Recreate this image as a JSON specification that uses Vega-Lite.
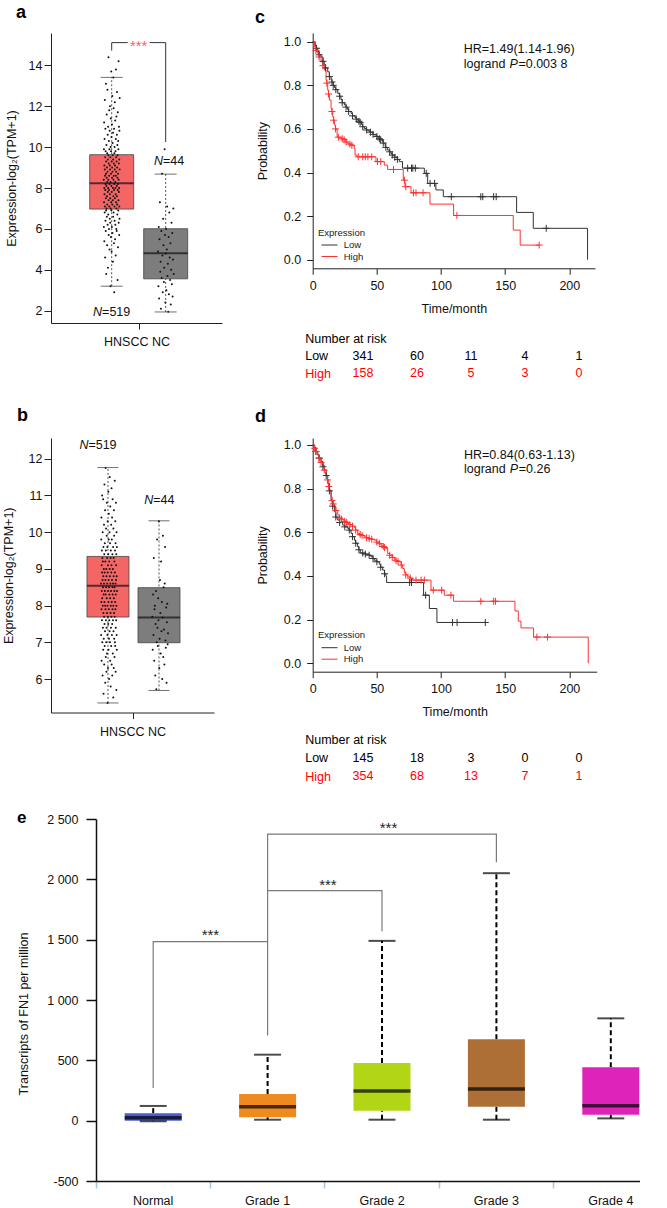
{
"$schema": "https://vega.github.io/schema/vega-lite/v6.json",
"padding": {"left": 2, "top": 4, "right": 0, "bottom": 0},
"config": {
 "font": "Liberation Sans",
 "view": {"stroke": null},
 "axis": {"grid": false, "domainColor": "#222", "tickColor": "#222", "labelColor": "#111", "titleColor": "#111", "labelFontSize": 12.5, "titleFontSize": 12.5, "titleFontWeight": "normal"},
 "title": {"color": "#000"}
},
"columns": 2,
"spacing": {"row": 0, "column": 90.7},
"bounds": "flush",
"align": "each",
"resolve": {"scale": {"color": "independent", "fill": "independent"}},
"datasets": {
 "a_box": [{"group":"HNSCC","lo":3.2,"q1":6.97,"med":8.23,"q3":9.63,"hi":13.41},{"group":"NC","lo":1.94,"q1":3.56,"med":4.81,"q3":6.01,"hi":8.68}],
 "a_br": [{"group":"HNSCC","v":14.72,"k":1},{"group":"HNSCC","v":15.11,"k":2},{"group":"NC","v":15.11,"k":3},{"group":"NC","v":10.25,"k":4}],
 "a_pts": [
{"group":"HNSCC","value":8.4},{"group":"HNSCC","value":6.1},{"group":"HNSCC","value":9.9},{"group":"HNSCC","value":7.3},{"group":"HNSCC","value":11.2},{"group":"HNSCC","value":8.0},{"group":"HNSCC","value":5.4},{"group":"HNSCC","value":9.1},{"group":"HNSCC","value":7.7},{"group":"HNSCC","value":10.4},
{"group":"HNSCC","value":6.8},{"group":"HNSCC","value":8.9},{"group":"HNSCC","value":12.3},{"group":"HNSCC","value":7.1},{"group":"HNSCC","value":8.6},{"group":"HNSCC","value":4.6},{"group":"HNSCC","value":9.5},{"group":"HNSCC","value":7.9},{"group":"HNSCC","value":10.9},{"group":"HNSCC","value":6.4},
{"group":"HNSCC","value":8.2},{"group":"HNSCC","value":9.8},{"group":"HNSCC","value":5.9},{"group":"HNSCC","value":7.5},{"group":"HNSCC","value":13.1},{"group":"HNSCC","value":8.7},{"group":"HNSCC","value":6.9},{"group":"HNSCC","value":9.3},{"group":"HNSCC","value":3.8},{"group":"HNSCC","value":8.1},
{"group":"HNSCC","value":10.1},{"group":"HNSCC","value":7.0},{"group":"HNSCC","value":8.5},{"group":"HNSCC","value":11.6},{"group":"HNSCC","value":6.6},{"group":"HNSCC","value":9.0},{"group":"HNSCC","value":7.6},{"group":"HNSCC","value":5.2},{"group":"HNSCC","value":9.7},{"group":"HNSCC","value":8.3},
{"group":"HNSCC","value":7.2},{"group":"HNSCC","value":12.8},{"group":"HNSCC","value":8.8},{"group":"HNSCC","value":6.2},{"group":"HNSCC","value":10.6},{"group":"HNSCC","value":7.8},{"group":"HNSCC","value":9.4},{"group":"HNSCC","value":4.1},{"group":"HNSCC","value":8.0},{"group":"HNSCC","value":11.0},
{"group":"HNSCC","value":6.7},{"group":"HNSCC","value":9.6},{"group":"HNSCC","value":8.4},{"group":"HNSCC","value":14.4},{"group":"HNSCC","value":7.4},{"group":"HNSCC","value":5.7},{"group":"HNSCC","value":9.2},{"group":"HNSCC","value":10.3},{"group":"HNSCC","value":7.9},{"group":"HNSCC","value":6.0},
{"group":"HNSCC","value":8.6},{"group":"HNSCC","value":11.8},{"group":"HNSCC","value":7.1},{"group":"HNSCC","value":9.9},{"group":"HNSCC","value":5.0},{"group":"HNSCC","value":8.2},{"group":"HNSCC","value":10.8},{"group":"HNSCC","value":6.5},{"group":"HNSCC","value":9.1},{"group":"HNSCC","value":7.7},
{"group":"HNSCC","value":12.0},{"group":"HNSCC","value":8.9},{"group":"HNSCC","value":6.3},{"group":"HNSCC","value":7.5},{"group":"HNSCC","value":9.5},{"group":"HNSCC","value":3.2},{"group":"HNSCC","value":8.3},{"group":"HNSCC","value":10.0},{"group":"HNSCC","value":7.0},{"group":"HNSCC","value":11.4},
{"group":"HNSCC","value":5.6},{"group":"HNSCC","value":8.7},{"group":"HNSCC","value":9.8},{"group":"HNSCC","value":7.3},{"group":"HNSCC","value":13.7},{"group":"HNSCC","value":6.9},{"group":"HNSCC","value":8.1},{"group":"HNSCC","value":10.5},{"group":"HNSCC","value":4.9},{"group":"HNSCC","value":9.3},
{"group":"HNSCC","value":7.8},{"group":"HNSCC","value":6.1},{"group":"HNSCC","value":11.1},{"group":"HNSCC","value":8.5},{"group":"HNSCC","value":9.0},{"group":"HNSCC","value":7.2},{"group":"HNSCC","value":12.5},{"group":"HNSCC","value":5.8},{"group":"HNSCC","value":8.8},{"group":"HNSCC","value":10.2},
{"group":"HNSCC","value":9.6},{"group":"HNSCC","value":7.4},{"group":"HNSCC","value":4.4},{"group":"HNSCC","value":8.0},{"group":"HNSCC","value":10.7},{"group":"HNSCC","value":6.6},{"group":"HNSCC","value":9.4},{"group":"HNSCC","value":13.4},{"group":"HNSCC","value":7.6},{"group":"HNSCC","value":8.4},
{"group":"HNSCC","value":6.8},{"group":"HNSCC","value":11.9},{"group":"HNSCC","value":8.6},{"group":"HNSCC","value":9.2},{"group":"HNSCC","value":5.3},{"group":"HNSCC","value":7.9},{"group":"HNSCC","value":10.9},{"group":"HNSCC","value":2.9},{"group":"HNSCC","value":8.2},{"group":"HNSCC","value":9.7},
{"group":"HNSCC","value":7.1},{"group":"HNSCC","value":10.0},{"group":"HNSCC","value":6.4},{"group":"HNSCC","value":8.9},{"group":"HNSCC","value":12.2},{"group":"HNSCC","value":7.5},{"group":"HNSCC","value":9.1},{"group":"HNSCC","value":5.5},{"group":"HNSCC","value":11.3},{"group":"HNSCC","value":8.3},
{"group":"HNSCC","value":6.2},{"group":"HNSCC","value":8.0},{"group":"HNSCC","value":9.8},{"group":"HNSCC","value":7.7},{"group":"HNSCC","value":4.7},{"group":"HNSCC","value":10.4},{"group":"HNSCC","value":8.6},{"group":"HNSCC","value":13.8},{"group":"HNSCC","value":7.3},{"group":"HNSCC","value":9.5},
{"group":"HNSCC","value":8.8},{"group":"HNSCC","value":6.0},{"group":"HNSCC","value":11.5},{"group":"HNSCC","value":7.0},{"group":"HNSCC","value":9.3},{"group":"HNSCC","value":5.9},{"group":"HNSCC","value":8.1},{"group":"HNSCC","value":10.6},{"group":"HNSCC","value":7.6},{"group":"HNSCC","value":12.7},
{"group":"HNSCC","value":9.0},{"group":"HNSCC","value":7.2},{"group":"HNSCC","value":6.7},{"group":"HNSCC","value":10.1},{"group":"HNSCC","value":8.5},{"group":"HNSCC","value":3.5},{"group":"HNSCC","value":9.6},{"group":"HNSCC","value":7.9},{"group":"HNSCC","value":11.7},{"group":"HNSCC","value":8.2},
{"group":"HNSCC","value":5.1},{"group":"HNSCC","value":8.7},{"group":"HNSCC","value":10.3},{"group":"HNSCC","value":6.9},{"group":"HNSCC","value":9.9},{"group":"HNSCC","value":7.4},{"group":"HNSCC","value":14.2},{"group":"HNSCC","value":8.4},{"group":"HNSCC","value":6.3},{"group":"HNSCC","value":9.2},
{"group":"HNSCC","value":7.8},{"group":"HNSCC","value":11.0},{"group":"HNSCC","value":8.0},{"group":"HNSCC","value":5.7},{"group":"HNSCC","value":9.4},{"group":"HNSCC","value":7.1},{"group":"HNSCC","value":10.8},{"group":"HNSCC","value":6.5},{"group":"HNSCC","value":8.9},{"group":"HNSCC","value":12.4},
{"group":"NC","value":4.9},{"group":"NC","value":3.2},{"group":"NC","value":6.1},{"group":"NC","value":2.6},{"group":"NC","value":5.5},{"group":"NC","value":7.3},{"group":"NC","value":3.9},{"group":"NC","value":4.4},{"group":"NC","value":2.1},{"group":"NC","value":5.9},
{"group":"NC","value":3.6},{"group":"NC","value":8.7},{"group":"NC","value":4.7},{"group":"NC","value":2.9},{"group":"NC","value":6.5},{"group":"NC","value":5.2},{"group":"NC","value":3.4},{"group":"NC","value":4.1},{"group":"NC","value":9.9},{"group":"NC","value":5.7},
{"group":"NC","value":2.4},{"group":"NC","value":4.8},{"group":"NC","value":6.0},{"group":"NC","value":3.0},{"group":"NC","value":5.0},{"group":"NC","value":7.1},{"group":"NC","value":3.7},{"group":"NC","value":4.3},{"group":"NC","value":1.95},{"group":"NC","value":5.6},
{"group":"NC","value":2.8},{"group":"NC","value":6.8},{"group":"NC","value":4.6},{"group":"NC","value":3.5},{"group":"NC","value":5.3},{"group":"NC","value":2.3},{"group":"NC","value":4.0},{"group":"NC","value":6.3},{"group":"NC","value":3.3},{"group":"NC","value":5.8},
{"group":"NC","value":2.7},{"group":"NC","value":4.5},{"group":"NC","value":7.0},{"group":"NC","value":3.8}],
 "b_box": [{"group":"HNSCC","lo":5.35,"q1":7.69,"med":8.54,"q3":9.34,"hi":11.76},{"group":"NC","lo":5.69,"q1":6.99,"med":7.68,"q3":8.49,"hi":10.31}],
 "b_pts": [
{"group":"HNSCC","value":8.6},{"group":"HNSCC","value":7.2},{"group":"HNSCC","value":9.8},{"group":"HNSCC","value":8.1},{"group":"HNSCC","value":10.4},{"group":"HNSCC","value":7.9},{"group":"HNSCC","value":6.5},{"group":"HNSCC","value":9.1},{"group":"HNSCC","value":8.4},{"group":"HNSCC","value":9.5},
{"group":"HNSCC","value":7.6},{"group":"HNSCC","value":8.9},{"group":"HNSCC","value":11.0},{"group":"HNSCC","value":8.2},{"group":"HNSCC","value":7.0},{"group":"HNSCC","value":9.3},{"group":"HNSCC","value":8.7},{"group":"HNSCC","value":6.1},{"group":"HNSCC","value":10.0},{"group":"HNSCC","value":8.0},
{"group":"HNSCC","value":9.2},{"group":"HNSCC","value":7.4},{"group":"HNSCC","value":8.5},{"group":"HNSCC","value":10.9},{"group":"HNSCC","value":6.8},{"group":"HNSCC","value":8.8},{"group":"HNSCC","value":7.8},{"group":"HNSCC","value":9.6},{"group":"HNSCC","value":5.6},{"group":"HNSCC","value":8.3},
{"group":"HNSCC","value":7.1},{"group":"HNSCC","value":9.0},{"group":"HNSCC","value":8.6},{"group":"HNSCC","value":10.2},{"group":"HNSCC","value":7.7},{"group":"HNSCC","value":6.4},{"group":"HNSCC","value":9.4},{"group":"HNSCC","value":8.1},{"group":"HNSCC","value":11.3},{"group":"HNSCC","value":7.5},
{"group":"HNSCC","value":8.9},{"group":"HNSCC","value":6.9},{"group":"HNSCC","value":9.7},{"group":"HNSCC","value":8.4},{"group":"HNSCC","value":7.3},{"group":"HNSCC","value":10.6},{"group":"HNSCC","value":8.0},{"group":"HNSCC","value":5.9},{"group":"HNSCC","value":9.2},{"group":"HNSCC","value":8.7},
{"group":"HNSCC","value":7.9},{"group":"HNSCC","value":11.75},{"group":"HNSCC","value":8.3},{"group":"HNSCC","value":6.6},{"group":"HNSCC","value":9.5},{"group":"HNSCC","value":7.6},{"group":"HNSCC","value":10.1},{"group":"HNSCC","value":8.5},{"group":"HNSCC","value":7.0},{"group":"HNSCC","value":9.0},
{"group":"HNSCC","value":6.2},{"group":"HNSCC","value":8.8},{"group":"HNSCC","value":7.4},{"group":"HNSCC","value":9.9},{"group":"HNSCC","value":8.2},{"group":"HNSCC","value":10.8},{"group":"HNSCC","value":7.8},{"group":"HNSCC","value":6.7},{"group":"HNSCC","value":9.3},{"group":"HNSCC","value":8.6},
{"group":"HNSCC","value":9.6},{"group":"HNSCC","value":7.2},{"group":"HNSCC","value":8.0},{"group":"HNSCC","value":5.35},{"group":"HNSCC","value":8.9},{"group":"HNSCC","value":10.3},{"group":"HNSCC","value":7.7},{"group":"HNSCC","value":9.1},{"group":"HNSCC","value":6.3},{"group":"HNSCC","value":8.4},
{"group":"HNSCC","value":7.5},{"group":"HNSCC","value":9.4},{"group":"HNSCC","value":11.1},{"group":"HNSCC","value":8.1},{"group":"HNSCC","value":6.8},{"group":"HNSCC","value":8.7},{"group":"HNSCC","value":9.8},{"group":"HNSCC","value":7.9},{"group":"HNSCC","value":10.5},{"group":"HNSCC","value":7.1},
{"group":"HNSCC","value":8.5},{"group":"HNSCC","value":6.0},{"group":"HNSCC","value":9.2},{"group":"HNSCC","value":7.6},{"group":"HNSCC","value":8.3},{"group":"HNSCC","value":10.0},{"group":"HNSCC","value":7.3},{"group":"HNSCC","value":9.0},{"group":"HNSCC","value":11.5},{"group":"HNSCC","value":8.8},
{"group":"HNSCC","value":7.0},{"group":"HNSCC","value":9.7},{"group":"HNSCC","value":8.2},{"group":"HNSCC","value":6.5},{"group":"HNSCC","value":10.7},{"group":"HNSCC","value":8.6},{"group":"HNSCC","value":7.8},{"group":"HNSCC","value":9.3},{"group":"HNSCC","value":5.8},{"group":"HNSCC","value":8.0},
{"group":"HNSCC","value":9.5},{"group":"HNSCC","value":7.4},{"group":"HNSCC","value":8.4},{"group":"HNSCC","value":10.2},{"group":"HNSCC","value":6.9},{"group":"HNSCC","value":8.9},{"group":"HNSCC","value":7.7},{"group":"HNSCC","value":9.1},{"group":"HNSCC","value":11.2},{"group":"HNSCC","value":6.4},
{"group":"HNSCC","value":8.1},{"group":"HNSCC","value":9.8},{"group":"HNSCC","value":7.2},{"group":"HNSCC","value":8.7},{"group":"HNSCC","value":10.4},{"group":"HNSCC","value":7.5},{"group":"HNSCC","value":6.1},{"group":"HNSCC","value":9.4},{"group":"HNSCC","value":8.5},{"group":"HNSCC","value":7.9},
{"group":"HNSCC","value":10.9},{"group":"HNSCC","value":8.3},{"group":"HNSCC","value":6.7},{"group":"HNSCC","value":9.0},{"group":"HNSCC","value":7.6},{"group":"HNSCC","value":8.6},{"group":"HNSCC","value":9.6},{"group":"HNSCC","value":5.5},{"group":"HNSCC","value":8.0},{"group":"HNSCC","value":10.1},
{"group":"HNSCC","value":7.3},{"group":"HNSCC","value":8.8},{"group":"HNSCC","value":9.3},{"group":"HNSCC","value":6.3},{"group":"HNSCC","value":8.2},{"group":"HNSCC","value":10.6},{"group":"HNSCC","value":7.8},{"group":"HNSCC","value":9.9},{"group":"HNSCC","value":7.1},{"group":"HNSCC","value":8.4},
{"group":"HNSCC","value":9.2},{"group":"HNSCC","value":6.6},{"group":"HNSCC","value":8.5},{"group":"HNSCC","value":7.7},{"group":"HNSCC","value":11.4},{"group":"HNSCC","value":8.9},{"group":"HNSCC","value":7.0},{"group":"HNSCC","value":9.5},{"group":"HNSCC","value":8.1},{"group":"HNSCC","value":6.9},
{"group":"HNSCC","value":10.3},{"group":"HNSCC","value":7.9},{"group":"HNSCC","value":8.6},{"group":"HNSCC","value":9.7},{"group":"HNSCC","value":6.2},{"group":"HNSCC","value":8.3},{"group":"HNSCC","value":7.4},{"group":"HNSCC","value":10.8},{"group":"HNSCC","value":8.7},{"group":"HNSCC","value":9.1},
{"group":"HNSCC","value":7.6},{"group":"HNSCC","value":9.4},{"group":"HNSCC","value":5.7},{"group":"HNSCC","value":8.0},{"group":"HNSCC","value":10.0},{"group":"HNSCC","value":7.2},{"group":"HNSCC","value":8.8},{"group":"HNSCC","value":6.8},{"group":"HNSCC","value":9.6},{"group":"HNSCC","value":8.4},
{"group":"NC","value":7.7},{"group":"NC","value":6.8},{"group":"NC","value":8.3},{"group":"NC","value":7.2},{"group":"NC","value":9.3},{"group":"NC","value":6.5},{"group":"NC","value":7.9},{"group":"NC","value":8.0},{"group":"NC","value":6.1},{"group":"NC","value":7.5},
{"group":"NC","value":8.4},{"group":"NC","value":5.72},{"group":"NC","value":7.0},{"group":"NC","value":9.8},{"group":"NC","value":7.4},{"group":"NC","value":6.9},{"group":"NC","value":8.2},{"group":"NC","value":7.6},{"group":"NC","value":10.3},{"group":"NC","value":6.3},
{"group":"NC","value":7.1},{"group":"NC","value":8.7},{"group":"NC","value":7.8},{"group":"NC","value":6.7},{"group":"NC","value":9.2},{"group":"NC","value":7.3},{"group":"NC","value":8.1},{"group":"NC","value":6.0},{"group":"NC","value":7.68},{"group":"NC","value":9.9},
{"group":"NC","value":6.6},{"group":"NC","value":8.5},{"group":"NC","value":7.35},{"group":"NC","value":6.4},{"group":"NC","value":8.6},{"group":"NC","value":9.6},{"group":"NC","value":7.05},{"group":"NC","value":6.85},{"group":"NC","value":7.95},{"group":"NC","value":5.9},
{"group":"NC","value":7.55},{"group":"NC","value":8.05},{"group":"NC","value":6.95},{"group":"NC","value":7.25}],
 "km_c": [
{"grp":"Low","t":0,"s":1},{"grp":"Low","t":2,"s":0.98},{"grp":"Low","t":3,"s":0.97,"cens":1},{"grp":"Low","t":4,"s":0.955},{"grp":"Low","t":5,"s":0.94,"cens":1},{"grp":"Low","t":6.5,"s":0.93},{"grp":"Low","t":8,"s":0.91,"cens":1},{"grp":"Low","t":9,"s":0.895},{"grp":"Low","t":10,"s":0.88,"cens":1},{"grp":"Low","t":11.7,"s":0.862},{"grp":"Low","t":13,"s":0.84,"cens":1},{"grp":"Low","t":14.3,"s":0.824},{"grp":"Low","t":15,"s":0.815,"cens":1},{"grp":"Low","t":16,"s":0.8,"cens":1},{"grp":"Low","t":17,"s":0.79},{"grp":"Low","t":18,"s":0.78,"cens":1},{"grp":"Low","t":19.5,"s":0.763},{"grp":"Low","t":21,"s":0.75,"cens":1},{"grp":"Low","t":22,"s":0.735},{"grp":"Low","t":23,"s":0.72,"cens":1},{"grp":"Low","t":24.7,"s":0.71},{"grp":"Low","t":26,"s":0.7,"cens":1},{"grp":"Low","t":27,"s":0.69},{"grp":"Low","t":28,"s":0.68,"cens":1},{"grp":"Low","t":29.9,"s":0.671},{"grp":"Low","t":31,"s":0.66,"cens":1},{"grp":"Low","t":33,"s":0.652},{"grp":"Low","t":34,"s":0.645,"cens":1},{"grp":"Low","t":35,"s":0.64},{"grp":"Low","t":36,"s":0.635,"cens":1},{"grp":"Low","t":37,"s":0.63,"cens":1},{"grp":"Low","t":38,"s":0.62},{"grp":"Low","t":39,"s":0.61,"cens":1},{"grp":"Low","t":40.2,"s":0.602},{"grp":"Low","t":42,"s":0.595,"cens":1},{"grp":"Low","t":44,"s":0.587},{"grp":"Low","t":45,"s":0.585,"cens":1},{"grp":"Low","t":47,"s":0.575,"cens":1},{"grp":"Low","t":48,"s":0.572},{"grp":"Low","t":50,"s":0.565,"cens":1},{"grp":"Low","t":51,"s":0.558},{"grp":"Low","t":52,"s":0.555,"cens":1},{"grp":"Low","t":53,"s":0.55,"cens":1},{"grp":"Low","t":54.5,"s":0.541},{"grp":"Low","t":55,"s":0.535,"cens":1},{"grp":"Low","t":56.5,"s":0.52},{"grp":"Low","t":57,"s":0.515,"cens":1},{"grp":"Low","t":58.4,"s":0.503},{"grp":"Low","t":60,"s":0.495,"cens":1},{"grp":"Low","t":61,"s":0.487},{"grp":"Low","t":62,"s":0.48,"cens":1},{"grp":"Low","t":63.6,"s":0.472},{"grp":"Low","t":64,"s":0.47,"cens":1},{"grp":"Low","t":66,"s":0.46,"cens":1},{"grp":"Low","t":67.5,"s":0.45},{"grp":"Low","t":70,"s":0.42},{"grp":"Low","t":74,"s":0.42,"cens":1},{"grp":"Low","t":77,"s":0.42,"cens":1},{"grp":"Low","t":78,"s":0.42,"cens":1},{"grp":"Low","t":80,"s":0.42,"cens":1},{"grp":"Low","t":87,"s":0.396},{"grp":"Low","t":88.5,"s":0.396,"cens":1},{"grp":"Low","t":89.6,"s":0.35},{"grp":"Low","t":91.5,"s":0.35,"cens":1},{"grp":"Low","t":95,"s":0.35,"cens":1},{"grp":"Low","t":96,"s":0.32},{"grp":"Low","t":101.8,"s":0.289},{"grp":"Low","t":108,"s":0.289,"cens":1},{"grp":"Low","t":131,"s":0.289,"cens":1},{"grp":"Low","t":132.5,"s":0.289,"cens":1},{"grp":"Low","t":141,"s":0.289,"cens":1},{"grp":"Low","t":143,"s":0.289,"cens":1},{"grp":"Low","t":158.9,"s":0.217},{"grp":"Low","t":171.9,"s":0.144},{"grp":"Low","t":182,"s":0.144,"cens":1},{"grp":"Low","t":214.2,"s":0},
{"grp":"High","t":0,"s":1},{"grp":"High","t":1.3,"s":0.977},{"grp":"High","t":2.5,"s":0.96,"cens":1},{"grp":"High","t":3.9,"s":0.946},{"grp":"High","t":5,"s":0.93,"cens":1},{"grp":"High","t":6.5,"s":0.908},{"grp":"High","t":8,"s":0.89,"cens":1},{"grp":"High","t":9.1,"s":0.87},{"grp":"High","t":10.4,"s":0.824},{"grp":"High","t":11,"s":0.81,"cens":1},{"grp":"High","t":11.7,"s":0.778},{"grp":"High","t":12.3,"s":0.76,"cens":1},{"grp":"High","t":13,"s":0.732},{"grp":"High","t":14.3,"s":0.694},{"grp":"High","t":15,"s":0.68,"cens":1},{"grp":"High","t":15.6,"s":0.656},{"grp":"High","t":16.3,"s":0.64,"cens":1},{"grp":"High","t":16.9,"s":0.618},{"grp":"High","t":17.8,"s":0.6,"cens":1},{"grp":"High","t":19,"s":0.564},{"grp":"High","t":20,"s":0.562,"cens":1},{"grp":"High","t":22,"s":0.557},{"grp":"High","t":23,"s":0.555,"cens":1},{"grp":"High","t":24.5,"s":0.55,"cens":1},{"grp":"High","t":26,"s":0.54,"cens":1},{"grp":"High","t":27.3,"s":0.534},{"grp":"High","t":29,"s":0.53,"cens":1},{"grp":"High","t":30.5,"s":0.525,"cens":1},{"grp":"High","t":32.4,"s":0.511},{"grp":"High","t":33,"s":0.48},{"grp":"High","t":34.5,"s":0.472},{"grp":"High","t":35.5,"s":0.472,"cens":1},{"grp":"High","t":39,"s":0.472,"cens":1},{"grp":"High","t":41,"s":0.472,"cens":1},{"grp":"High","t":43,"s":0.472,"cens":1},{"grp":"High","t":46,"s":0.472,"cens":1},{"grp":"High","t":49.3,"s":0.45},{"grp":"High","t":50.5,"s":0.45,"cens":1},{"grp":"High","t":53,"s":0.45,"cens":1},{"grp":"High","t":55.8,"s":0.434},{"grp":"High","t":58.4,"s":0.414},{"grp":"High","t":63,"s":0.414,"cens":1},{"grp":"High","t":70.6,"s":0.365},{"grp":"High","t":71.5,"s":0.365,"cens":1},{"grp":"High","t":71.9,"s":0.335},{"grp":"High","t":72.5,"s":0.335,"cens":1},{"grp":"High","t":76.6,"s":0.307},{"grp":"High","t":78.5,"s":0.307,"cens":1},{"grp":"High","t":80.5,"s":0.307,"cens":1},{"grp":"High","t":86,"s":0.307,"cens":1},{"grp":"High","t":91.4,"s":0.255},{"grp":"High","t":109.8,"s":0.203},{"grp":"High","t":112.4,"s":0.203,"cens":1},{"grp":"High","t":156.3,"s":0.136},{"grp":"High","t":161.7,"s":0.067},{"grp":"High","t":176.5,"s":0.067,"cens":1}],
 "km_d": [
{"grp":"Low","t":0,"s":1},{"grp":"Low","t":1.3,"s":0.989},{"grp":"Low","t":2.5,"s":0.97,"cens":1},{"grp":"Low","t":3.9,"s":0.954},{"grp":"Low","t":5,"s":0.94,"cens":1},{"grp":"Low","t":6.5,"s":0.924},{"grp":"Low","t":8,"s":0.9,"cens":1},{"grp":"Low","t":9.1,"s":0.885},{"grp":"Low","t":10.5,"s":0.86,"cens":1},{"grp":"Low","t":11.7,"s":0.824},{"grp":"Low","t":13,"s":0.79,"cens":1},{"grp":"Low","t":14.3,"s":0.748},{"grp":"Low","t":15.5,"s":0.72,"cens":1},{"grp":"Low","t":16.9,"s":0.694},{"grp":"Low","t":18,"s":0.67,"cens":1},{"grp":"Low","t":19.5,"s":0.656},{"grp":"Low","t":21,"s":0.645,"cens":1},{"grp":"Low","t":23.4,"s":0.633},{"grp":"Low","t":25,"s":0.625,"cens":1},{"grp":"Low","t":27.3,"s":0.618},{"grp":"Low","t":28.5,"s":0.61,"cens":1},{"grp":"Low","t":29.9,"s":0.595},{"grp":"Low","t":31,"s":0.58,"cens":1},{"grp":"Low","t":32.5,"s":0.564},{"grp":"Low","t":33.5,"s":0.55,"cens":1},{"grp":"Low","t":35,"s":0.534},{"grp":"Low","t":36,"s":0.52,"cens":1},{"grp":"Low","t":37.1,"s":0.506},{"grp":"Low","t":39,"s":0.505,"cens":1},{"grp":"Low","t":41,"s":0.5,"cens":1},{"grp":"Low","t":44,"s":0.495,"cens":1},{"grp":"Low","t":45.4,"s":0.488},{"grp":"Low","t":47,"s":0.48,"cens":1},{"grp":"Low","t":48,"s":0.472},{"grp":"Low","t":50,"s":0.465,"cens":1},{"grp":"Low","t":51.9,"s":0.454},{"grp":"Low","t":53,"s":0.44,"cens":1},{"grp":"Low","t":54.5,"s":0.427},{"grp":"Low","t":56,"s":0.41,"cens":1},{"grp":"Low","t":57.1,"s":0.399},{"grp":"Low","t":57.6,"s":0.37},{"grp":"Low","t":75.5,"s":0.37,"cens":1},{"grp":"Low","t":77,"s":0.37,"cens":1},{"grp":"Low","t":86.4,"s":0.312},{"grp":"Low","t":88,"s":0.312,"cens":1},{"grp":"Low","t":90.9,"s":0.251},{"grp":"Low","t":96.8,"s":0.187},{"grp":"Low","t":109,"s":0.187,"cens":1},{"grp":"Low","t":112.5,"s":0.187,"cens":1},{"grp":"Low","t":134.5,"s":0.187,"cens":1},
{"grp":"High","t":0,"s":1},{"grp":"High","t":1.5,"s":0.985,"cens":1},{"grp":"High","t":2.5,"s":0.97,"cens":1},{"grp":"High","t":3.9,"s":0.954},{"grp":"High","t":5,"s":0.94,"cens":1},{"grp":"High","t":6.5,"s":0.92,"cens":1},{"grp":"High","t":7.8,"s":0.908},{"grp":"High","t":9,"s":0.885,"cens":1},{"grp":"High","t":10.4,"s":0.862},{"grp":"High","t":11.5,"s":0.84,"cens":1},{"grp":"High","t":12.5,"s":0.81,"cens":1},{"grp":"High","t":13,"s":0.794},{"grp":"High","t":14.3,"s":0.763},{"grp":"High","t":15,"s":0.745,"cens":1},{"grp":"High","t":16,"s":0.73,"cens":1},{"grp":"High","t":16.9,"s":0.717},{"grp":"High","t":18,"s":0.7,"cens":1},{"grp":"High","t":19.5,"s":0.679},{"grp":"High","t":21,"s":0.665,"cens":1},{"grp":"High","t":22.5,"s":0.66,"cens":1},{"grp":"High","t":23.4,"s":0.656},{"grp":"High","t":25,"s":0.65,"cens":1},{"grp":"High","t":26.5,"s":0.645,"cens":1},{"grp":"High","t":27.3,"s":0.641},{"grp":"High","t":29,"s":0.635,"cens":1},{"grp":"High","t":31,"s":0.628,"cens":1},{"grp":"High","t":32.5,"s":0.622},{"grp":"High","t":33.5,"s":0.61,"cens":1},{"grp":"High","t":35,"s":0.595},{"grp":"High","t":37,"s":0.59,"cens":1},{"grp":"High","t":38.5,"s":0.585,"cens":1},{"grp":"High","t":40.2,"s":0.579},{"grp":"High","t":42,"s":0.575,"cens":1},{"grp":"High","t":44,"s":0.572,"cens":1},{"grp":"High","t":46,"s":0.568,"cens":1},{"grp":"High","t":48,"s":0.564},{"grp":"High","t":50,"s":0.555,"cens":1},{"grp":"High","t":52,"s":0.548,"cens":1},{"grp":"High","t":53.2,"s":0.541},{"grp":"High","t":55,"s":0.535,"cens":1},{"grp":"High","t":56,"s":0.53,"cens":1},{"grp":"High","t":57.1,"s":0.526},{"grp":"High","t":58.4,"s":0.503},{"grp":"High","t":60,"s":0.495,"cens":1},{"grp":"High","t":62,"s":0.485,"cens":1},{"grp":"High","t":63.6,"s":0.476},{"grp":"High","t":65,"s":0.47,"cens":1},{"grp":"High","t":66.5,"s":0.467,"cens":1},{"grp":"High","t":67.5,"s":0.465},{"grp":"High","t":69,"s":0.45,"cens":1},{"grp":"High","t":70.1,"s":0.434},{"grp":"High","t":71.4,"s":0.414},{"grp":"High","t":72.5,"s":0.405,"cens":1},{"grp":"High","t":74,"s":0.396},{"grp":"High","t":76,"s":0.39,"cens":1},{"grp":"High","t":77.9,"s":0.381},{"grp":"High","t":80.5,"s":0.381,"cens":1},{"grp":"High","t":84.5,"s":0.381,"cens":1},{"grp":"High","t":87,"s":0.381,"cens":1},{"grp":"High","t":92.2,"s":0.335},{"grp":"High","t":94,"s":0.335,"cens":1},{"grp":"High","t":100.5,"s":0.335,"cens":1},{"grp":"High","t":102.5,"s":0.312},{"grp":"High","t":107.7,"s":0.312,"cens":1},{"grp":"High","t":109.8,"s":0.284},{"grp":"High","t":131,"s":0.284,"cens":1},{"grp":"High","t":141,"s":0.284,"cens":1},{"grp":"High","t":142.4,"s":0.284,"cens":1},{"grp":"High","t":157.6,"s":0.24},{"grp":"High","t":160.2,"s":0.193},{"grp":"High","t":162.3,"s":0.162},{"grp":"High","t":172.1,"s":0.12},{"grp":"High","t":174.7,"s":0.12,"cens":1},{"grp":"High","t":183,"s":0.12,"cens":1},{"grp":"High","t":214.7,"s":0}],
 "risk_c": [{"grp":"Low","t":0,"n":341},{"grp":"Low","t":50,"n":60},{"grp":"Low","t":100,"n":11},{"grp":"Low","t":150,"n":4},{"grp":"Low","t":200,"n":1},{"grp":"High","t":0,"n":158},{"grp":"High","t":50,"n":26},{"grp":"High","t":100,"n":5},{"grp":"High","t":150,"n":3},{"grp":"High","t":200,"n":0}],
 "risk_d": [{"grp":"Low","t":0,"n":145},{"grp":"Low","t":50,"n":18},{"grp":"Low","t":100,"n":3},{"grp":"Low","t":150,"n":0},{"grp":"Low","t":200,"n":0},{"grp":"High","t":0,"n":354},{"grp":"High","t":50,"n":68},{"grp":"High","t":100,"n":13},{"grp":"High","t":150,"n":7},{"grp":"High","t":200,"n":1}],
 "e_box": [{"grade":"Normal","lo":-5,"q1":0,"med":25,"q3":62,"hi":122},{"grade":"Grade 1","lo":8,"q1":28,"med":116,"q3":221,"hi":547},{"grade":"Grade 2","lo":8,"q1":83,"med":246,"q3":478,"hi":1490},{"grade":"Grade 3","lo":8,"q1":116,"med":263,"q3":674,"hi":2051},{"grade":"Grade 4","lo":19,"q1":50,"med":124,"q3":442,"hi":848}],
 "e_br": [{"path":"L1","grade":"Normal","v":271,"k":1},{"path":"L1","grade":"Normal","v":1484,"k":2},{"path":"L1","grade":"Grade 1","v":1484,"k":3},{"path":"L2","grade":"Grade 1","v":705,"k":1},{"path":"L2","grade":"Grade 1","v":2374,"k":2},{"path":"L2","grade":"Grade 3","v":2374,"k":3},{"path":"L2","grade":"Grade 3","v":2142,"k":4},{"path":"L3","grade":"Grade 1","v":1907,"k":1},{"path":"L3","grade":"Grade 2","v":1907,"k":2},{"path":"L3","grade":"Grade 2","v":1570,"k":3}]
},
"concat": [
 {
  "width": 171, "height": 290,
  "title": {"text": "a", "anchor": "start", "frame": "group", "dx": -35, "offset": -3.3, "baseline": "alphabetic", "fontSize": 18, "fontWeight": "bold"},
  "encoding": {"x": {"field": "group", "type": "nominal", "scale": {"type": "band", "domain": ["HNSCC", "NC"], "paddingInner": 0.185, "paddingOuter": 0.676, "align": 0.53}, "axis": {"title": "HNSCC NC", "labels": false, "values": ["HNSCC"], "ticks": true, "bandPosition": 1, "tickOffset": 5, "tickSize": 6, "titlePadding": 6}}},
  "layer": [
   {"data": {"name": "a_box"}, "mark": {"type": "rule", "strokeDash": [2, 2], "color": "#555", "strokeWidth": 1},
    "encoding": {"y": {"field": "lo", "type": "quantitative", "scale": {"domain": [1.4, 15.58], "nice": false, "zero": false}, "axis": {"values": [2, 4, 6, 8, 10, 12, 14], "title": "Expression-log₂(TPM+1)", "tickSize": 7, "labelPadding": 2, "titlePadding": 10}}, "y2": {"field": "hi"}}},
   {"data": {"name": "a_box"}, "mark": {"type": "bar", "width": 44, "stroke": "#444", "strokeWidth": 0.8},
    "encoding": {"y": {"field": "q1", "type": "quantitative"}, "y2": {"field": "q3"}, "fill": {"field": "group", "type": "nominal", "scale": {"domain": ["HNSCC", "NC"], "range": ["#f46565", "#7d7d7d"]}, "legend": null}}},
   {"data": {"name": "a_pts"},
    "transform": [{"window": [{"op": "row_number", "as": "rn"}], "groupby": ["group"]}, {"window": [{"op": "cume_dist", "as": "jx"}], "sort": [{"field": "rn"}], "groupby": ["group"]}],
    "mark": {"type": "point", "filled": true, "size": 4, "color": "#111", "opacity": 1},
    "encoding": {"xOffset": {"field": "jx", "type": "quantitative", "scale": {"domain": [-0.875, 1.875]}}, "y": {"field": "value", "type": "quantitative"}}},
   {"data": {"name": "a_box"}, "mark": {"type": "tick", "thickness": 2, "size": 44, "color": "#111"},
    "encoding": {"y": {"field": "med", "type": "quantitative"}}},
   {"data": {"name": "a_box"}, "mark": {"type": "tick", "thickness": 1, "size": 22, "color": "#333"},
    "encoding": {"y": {"field": "lo", "type": "quantitative"}}},
   {"data": {"name": "a_box"}, "mark": {"type": "tick", "thickness": 1, "size": 22, "color": "#333"},
    "encoding": {"y": {"field": "hi", "type": "quantitative"}}},
   {"data": {"name": "a_br"}, "mark": {"type": "line", "color": "#333", "strokeWidth": 1, "strokeDash": [24, 22, 400]},
    "encoding": {"y": {"field": "v", "type": "quantitative"}, "order": {"field": "k", "type": "quantitative"}}},
   {"data": {"values": [{}]}, "mark": {"type": "text", "text": "***", "color": "#ff6060", "fontSize": 15, "baseline": "alphabetic", "align": "center", "dx": 27},
    "encoding": {"x": {"datum": "HNSCC", "type": "nominal"}, "y": {"datum": 14.68, "type": "quantitative"}}},
   {"data": {"values": [{}]}, "mark": {"type": "text", "text": "N", "fontStyle": "italic", "fontSize": 12.5, "baseline": "middle", "align": "left", "dx": -18.6, "color": "#111"},
    "encoding": {"x": {"datum": "HNSCC", "type": "nominal"}, "y": {"datum": 1.95, "type": "quantitative"}}},
   {"data": {"values": [{}]}, "mark": {"type": "text", "text": "=519", "fontSize": 12.5, "baseline": "middle", "align": "left", "dx": -9.6, "color": "#111"},
    "encoding": {"x": {"datum": "HNSCC", "type": "nominal"}, "y": {"datum": 1.95, "type": "quantitative"}}},
   {"data": {"values": [{}]}, "mark": {"type": "text", "text": "N", "fontStyle": "italic", "fontSize": 12.5, "baseline": "middle", "align": "left", "dx": -11.8, "color": "#111"},
    "encoding": {"x": {"datum": "NC", "type": "nominal"}, "y": {"datum": 9.34, "type": "quantitative"}}},
   {"data": {"values": [{}]}, "mark": {"type": "text", "text": "=44", "fontSize": 12.5, "baseline": "middle", "align": "left", "dx": -2.8, "color": "#111"},
    "encoding": {"x": {"datum": "NC", "type": "nominal"}, "y": {"datum": 9.34, "type": "quantitative"}}}
  ]
 },
 {
  "width": 282.3, "height": 235.3,
  "title": {"text": "c", "anchor": "start", "frame": "group", "dx": -57.7, "offset": -7.7, "baseline": "alphabetic", "fontSize": 18, "fontWeight": "bold"},
  "encoding": {
   "x": {"field": "t", "type": "quantitative", "scale": {"domain": [0, 220], "nice": false, "zero": false}, "axis": {"values": [0, 50, 100, 150, 200], "title": "Time/month", "tickSize": 6, "labelPadding": 5, "titlePadding": 11, "labelFlush": false}},
   "y": {"field": "s", "type": "quantitative", "scale": {"domain": [-0.0394, 1.04], "nice": false, "zero": false}, "axis": {"values": [0, 0.2, 0.4, 0.6, 0.8, 1], "format": ".1f", "title": "Probability", "tickSize": 6, "labelPadding": 6, "titlePadding": 14}}
  },
  "layer": [
   {"data": {"name": "km_c"}, "mark": {"type": "line", "interpolate": "step-after", "strokeWidth": 1},
    "encoding": {"color": {"field": "grp", "type": "nominal", "scale": {"domain": ["Low", "High"], "range": ["#333333", "#ff3030"]},
     "legend": {"orient": "none", "legendX": 5.3, "legendY": 194.5, "title": "Expression", "titleFontSize": 9.5, "titleFontWeight": "normal", "titlePadding": 2.5, "labelFontSize": 9.5, "symbolType": "M-0.4,0H2.8", "symbolSize": 100, "symbolStrokeWidth": 1, "labelOffset": 14.7, "rowPadding": 1.5, "padding": 0, "titleColor": "#222", "labelColor": "#222"}}}},
   {"data": {"name": "km_c"}, "transform": [{"filter": "datum.cens === 1"}], "mark": {"type": "point", "shape": "M-1,0L1,0M0,-1L0,1", "size": 49, "strokeWidth": 1, "filled": false, "opacity": 1},
    "encoding": {"color": {"field": "grp", "type": "nominal"}}},
   {"data": {"values": [{"t": 117.7, "s": 0.9666}]}, "mark": {"type": "text", "text": "HR=1.49(1.14-1.96)", "align": "left", "baseline": "middle", "fontSize": 12.5, "color": "#111"}},
   {"data": {"values": [{"t": 117.7, "s": 0.898}]}, "mark": {"type": "text", "text": "logrand", "align": "left", "baseline": "middle", "fontSize": 12.5, "color": "#111"}},
   {"data": {"values": [{"t": 117.7, "s": 0.898}]}, "mark": {"type": "text", "text": "P", "fontStyle": "italic", "dx": 45.7, "align": "left", "baseline": "middle", "fontSize": 12.5, "color": "#111"}},
   {"data": {"values": [{"t": 117.7, "s": 0.898}]}, "mark": {"type": "text", "text": "=0.003 8", "dx": 54.7, "align": "left", "baseline": "middle", "fontSize": 12.5, "color": "#111"}}
  ]
 },
 {"width": 171, "height": 1, "data": {"values": [{"k": 1}]}, "mark": {"type": "point", "opacity": 0}},
 {
  "width": 282.3, "height": 115,
  "data": {"name": "risk_c"},
  "mark": {"type": "text", "fontSize": 12.5, "baseline": "middle"},
  "encoding": {
   "x": {"field": "t", "type": "ordinal", "scale": {"type": "point", "domain": [0, 50, 100, 150, 200], "padding": 0.614, "align": 0.759}, "axis": null},
   "y": {"field": "grp", "type": "nominal", "scale": {"type": "point", "domain": ["Number at risk", "Low", "High"], "padding": 0, "range": [15, 50]},
    "axis": {"title": null, "domain": false, "ticks": false, "tickSize": 0, "labelAlign": "left", "labelPadding": 8, "labelFontSize": 12.5, "labelColor": {"condition": {"test": "datum.value === 'High'", "value": "#ff0000"}, "value": "#000000"}}},
   "text": {"field": "n", "type": "quantitative"},
   "color": {"field": "grp", "type": "nominal", "scale": {"domain": ["Low", "High"], "range": ["#000000", "#ff0000"]}, "legend": null}
  }
 },
 {
  "width": 163, "height": 274.5,
  "title": {"text": "b", "anchor": "start", "frame": "group", "dx": -34, "offset": -1, "baseline": "alphabetic", "fontSize": 18, "fontWeight": "bold"},
  "encoding": {"x": {"field": "group", "type": "nominal", "scale": {"type": "band", "domain": ["HNSCC", "NC"], "paddingInner": 0.1765, "paddingOuter": 0.686, "align": 0.514}, "axis": {"title": "HNSCC NC", "labels": false, "values": ["HNSCC"], "ticks": true, "bandPosition": 1, "tickOffset": 4.5, "tickSize": 6, "titlePadding": 6.3}}},
  "layer": [
   {"data": {"name": "b_box"}, "mark": {"type": "rule", "strokeDash": [2, 2], "color": "#555", "strokeWidth": 1},
    "encoding": {"y": {"field": "lo", "type": "quantitative", "scale": {"domain": [5.09, 12.565], "nice": false, "zero": false}, "axis": {"values": [6, 7, 8, 9, 10, 11, 12], "title": "Expression-log₂(TPM+1)", "tickSize": 7, "labelPadding": 2, "titlePadding": 13}}, "y2": {"field": "hi"}}},
   {"data": {"name": "b_box"}, "mark": {"type": "bar", "width": 42, "stroke": "#444", "strokeWidth": 0.8},
    "encoding": {"y": {"field": "q1", "type": "quantitative"}, "y2": {"field": "q3"}, "fill": {"field": "group", "type": "nominal", "scale": {"domain": ["HNSCC", "NC"], "range": ["#f46565", "#7d7d7d"]}, "legend": null}}},
   {"data": {"name": "b_pts"},
    "transform": [{"window": [{"op": "row_number", "as": "rn"}], "groupby": ["group"]}, {"window": [{"op": "cume_dist", "as": "jx"}], "sort": [{"field": "rn"}], "groupby": ["group"]}],
    "mark": {"type": "point", "filled": true, "size": 4, "color": "#111", "opacity": 1},
    "encoding": {"xOffset": {"field": "jx", "type": "quantitative", "scale": {"domain": [-0.8125, 1.8125]}}, "y": {"field": "value", "type": "quantitative"}}},
   {"data": {"name": "b_box"}, "mark": {"type": "tick", "thickness": 2, "size": 42, "color": "#111"},
    "encoding": {"y": {"field": "med", "type": "quantitative"}}},
   {"data": {"name": "b_box"}, "mark": {"type": "tick", "thickness": 1, "size": 21, "color": "#333"},
    "encoding": {"y": {"field": "lo", "type": "quantitative"}}},
   {"data": {"name": "b_box"}, "mark": {"type": "tick", "thickness": 1, "size": 21, "color": "#333"},
    "encoding": {"y": {"field": "hi", "type": "quantitative"}}},
   {"data": {"values": [{}]}, "mark": {"type": "text", "text": "N", "fontStyle": "italic", "fontSize": 12.5, "baseline": "middle", "align": "left", "dx": -28.6, "color": "#111"},
    "encoding": {"x": {"datum": "HNSCC", "type": "nominal"}, "y": {"datum": 12.38, "type": "quantitative"}}},
   {"data": {"values": [{}]}, "mark": {"type": "text", "text": "=519", "fontSize": 12.5, "baseline": "middle", "align": "left", "dx": -19.6, "color": "#111"},
    "encoding": {"x": {"datum": "HNSCC", "type": "nominal"}, "y": {"datum": 12.38, "type": "quantitative"}}},
   {"data": {"values": [{}]}, "mark": {"type": "text", "text": "N", "fontStyle": "italic", "fontSize": 12.5, "baseline": "middle", "align": "left", "dx": -14.8, "color": "#111"},
    "encoding": {"x": {"datum": "NC", "type": "nominal"}, "y": {"datum": 10.88, "type": "quantitative"}}},
   {"data": {"values": [{}]}, "mark": {"type": "text", "text": "=44", "fontSize": 12.5, "baseline": "middle", "align": "left", "dx": -5.8, "color": "#111"},
    "encoding": {"x": {"datum": "NC", "type": "nominal"}, "y": {"datum": 10.88, "type": "quantitative"}}}
  ]
 },
 {
  "width": 284, "height": 233.7,
  "title": {"text": "d", "anchor": "start", "frame": "group", "dx": -57.7, "offset": -1.7, "baseline": "alphabetic", "fontSize": 18, "fontWeight": "bold"},
  "encoding": {
   "x": {"field": "t", "type": "quantitative", "scale": {"domain": [0, 221.3], "nice": false, "zero": false}, "axis": {"values": [0, 50, 100, 150, 200], "title": "Time/month", "tickSize": 6, "labelPadding": 5, "titlePadding": 10, "labelFlush": false}},
   "y": {"field": "s", "type": "quantitative", "scale": {"domain": [-0.0385, 1.032], "nice": false, "zero": false}, "axis": {"values": [0, 0.2, 0.4, 0.6, 0.8, 1], "format": ".1f", "title": "Probability", "tickSize": 6, "labelPadding": 6, "titlePadding": 14}}
  },
  "layer": [
   {"data": {"name": "km_d"}, "mark": {"type": "line", "interpolate": "step-after", "strokeWidth": 1},
    "encoding": {"color": {"field": "grp", "type": "nominal", "scale": {"domain": ["Low", "High"], "range": ["#333333", "#ff3030"]},
     "legend": {"orient": "none", "legendX": 5.3, "legendY": 192.2, "title": "Expression", "titleFontSize": 9.5, "titleFontWeight": "normal", "titlePadding": 2.5, "labelFontSize": 9.5, "symbolType": "M-0.4,0H2.8", "symbolSize": 100, "symbolStrokeWidth": 1, "labelOffset": 14.7, "rowPadding": 1.5, "padding": 0, "titleColor": "#222", "labelColor": "#222"}}}},
   {"data": {"name": "km_d"}, "transform": [{"filter": "datum.cens === 1"}], "mark": {"type": "point", "shape": "M-1,0L1,0M0,-1L0,1", "size": 49, "strokeWidth": 1, "filled": false, "opacity": 1},
    "encoding": {"color": {"field": "grp", "type": "nominal"}}},
   {"data": {"values": [{"t": 117.9, "s": 0.954}]}, "mark": {"type": "text", "text": "HR=0.84(0.63-1.13)", "align": "left", "baseline": "middle", "fontSize": 12.5, "color": "#111"}},
   {"data": {"values": [{"t": 117.9, "s": 0.89}]}, "mark": {"type": "text", "text": "logrand", "align": "left", "baseline": "middle", "fontSize": 12.5, "color": "#111"}},
   {"data": {"values": [{"t": 117.9, "s": 0.89}]}, "mark": {"type": "text", "text": "P", "fontStyle": "italic", "dx": 45.7, "align": "left", "baseline": "middle", "fontSize": 12.5, "color": "#111"}},
   {"data": {"values": [{"t": 117.9, "s": 0.89}]}, "mark": {"type": "text", "text": "=0.26", "dx": 54.7, "align": "left", "baseline": "middle", "fontSize": 12.5, "color": "#111"}}
  ]
 },
 {"width": 163, "height": 1, "data": {"values": [{"k": 1}]}, "mark": {"type": "point", "opacity": 0}},
 {
  "width": 282.3, "height": 105.3,
  "data": {"name": "risk_d"},
  "mark": {"type": "text", "fontSize": 12.5, "baseline": "middle"},
  "encoding": {
   "x": {"field": "t", "type": "ordinal", "scale": {"type": "point", "domain": [0, 50, 100, 150, 200], "padding": 0.614, "align": 0.759}, "axis": null},
   "y": {"field": "grp", "type": "nominal", "scale": {"type": "point", "domain": ["Number at risk", "Low", "High"], "padding": 0, "range": [26.6, 63.3]},
    "axis": {"title": null, "domain": false, "ticks": false, "tickSize": 0, "labelAlign": "left", "labelPadding": 8, "labelFontSize": 12.5, "labelColor": {"condition": {"test": "datum.value === 'High'", "value": "#ff0000"}, "value": "#000000"}}},
   "text": {"field": "n", "type": "quantitative"},
   "color": {"field": "grp", "type": "nominal", "scale": {"domain": ["Low", "High"], "range": ["#000000", "#ff0000"]}, "legend": null}
  }
 },
 {
  "width": 171, "height": 362,
  "title": {"text": "e", "anchor": "start", "frame": "group", "dx": -34, "offset": -26.7, "baseline": "alphabetic", "fontSize": 17, "fontWeight": "bold"},
  "encoding": {"x": {"field": "grade", "type": "nominal", "scale": {"type": "band", "domain": ["Normal", "Grade 1", "Grade 2", "Grade 3", "Grade 4"], "paddingInner": 0, "paddingOuter": 0, "range": [45, 617]},
   "axis": {"title": null, "labelAngle": 0, "bandPosition": 0, "labelOffset": 0, "tickColor": "#a9c3e3", "tickWidth": 1.5, "tickSize": 7, "labelPadding": 6, "domainColor": "#111", "domainWidth": 1.5}}},
  "layer": [
   {"data": {"name": "e_box"}, "mark": {"type": "rule", "strokeDash": [5, 3], "strokeWidth": 2, "color": "#000"},
    "encoding": {"y": {"field": "q3", "type": "quantitative", "scale": {"domain": [-500, 2500], "nice": false, "zero": false},
     "axis": {"values": [-500, 0, 500, 1000, 1500, 2000, 2500], "labelExpr": "replace(replace(format(datum.value, ','), ',', ' '), '−', '-')", "title": "Transcripts of FN1 per million", "offset": -45, "tickSize": 10, "labelPadding": 8, "titlePadding": 16, "titleY": 194.5, "domainColor": "#111", "domainWidth": 1.5, "tickColor": "#111", "tickWidth": 1.5}}, "y2": {"field": "hi"}}},
   {"data": {"name": "e_box"}, "mark": {"type": "rule", "strokeDash": [5, 3], "strokeWidth": 2, "color": "#000"},
    "encoding": {"y": {"field": "lo", "type": "quantitative"}, "y2": {"field": "q1"}}},
   {"data": {"name": "e_box"}, "mark": {"type": "bar", "width": 57},
    "encoding": {"y": {"field": "q1", "type": "quantitative"}, "y2": {"field": "q3"}, "fill": {"field": "grade", "type": "nominal", "scale": {"domain": ["Normal", "Grade 1", "Grade 2", "Grade 3", "Grade 4"], "range": ["#4d5cd6", "#ef8a1f", "#b2d516", "#ad6f36", "#dd23b9"]}, "legend": null}}},
   {"data": {"name": "e_box"}, "mark": {"type": "tick", "thickness": 3.5, "size": 57, "color": "#000"},
    "encoding": {"y": {"field": "med", "type": "quantitative"}}},
   {"data": {"name": "e_box"}, "mark": {"type": "tick", "thickness": 2, "size": 27, "color": "#000"},
    "encoding": {"y": {"field": "lo", "type": "quantitative"}}},
   {"data": {"name": "e_box"}, "mark": {"type": "tick", "thickness": 2, "size": 27, "color": "#000"},
    "encoding": {"y": {"field": "hi", "type": "quantitative"}}},
   {"data": {"name": "e_br"}, "mark": {"type": "line", "color": "#7a7a7a", "strokeWidth": 1.2},
    "encoding": {"y": {"field": "v", "type": "quantitative"}, "detail": {"field": "path", "type": "nominal"}, "order": {"field": "k", "type": "quantitative"}}},
   {"data": {"values": [{}]}, "mark": {"type": "text", "text": "***", "fontSize": 15, "baseline": "alphabetic", "align": "center", "dx": 57.2, "color": "#222"},
    "encoding": {"x": {"datum": "Normal", "type": "nominal"}, "y": {"datum": 1495, "type": "quantitative"}}},
   {"data": {"values": [{}]}, "mark": {"type": "text", "text": "***", "fontSize": 15, "baseline": "alphabetic", "align": "center", "dx": 60.3, "color": "#222"},
    "encoding": {"x": {"datum": "Grade 1", "type": "nominal"}, "y": {"datum": 1915, "type": "quantitative"}}},
   {"data": {"values": [{}]}, "mark": {"type": "text", "text": "***", "fontSize": 15, "baseline": "alphabetic", "align": "center", "dx": 6.5, "color": "#222"},
    "encoding": {"x": {"datum": "Grade 2", "type": "nominal"}, "y": {"datum": 2385, "type": "quantitative"}}}
  ]
 }
]
}
